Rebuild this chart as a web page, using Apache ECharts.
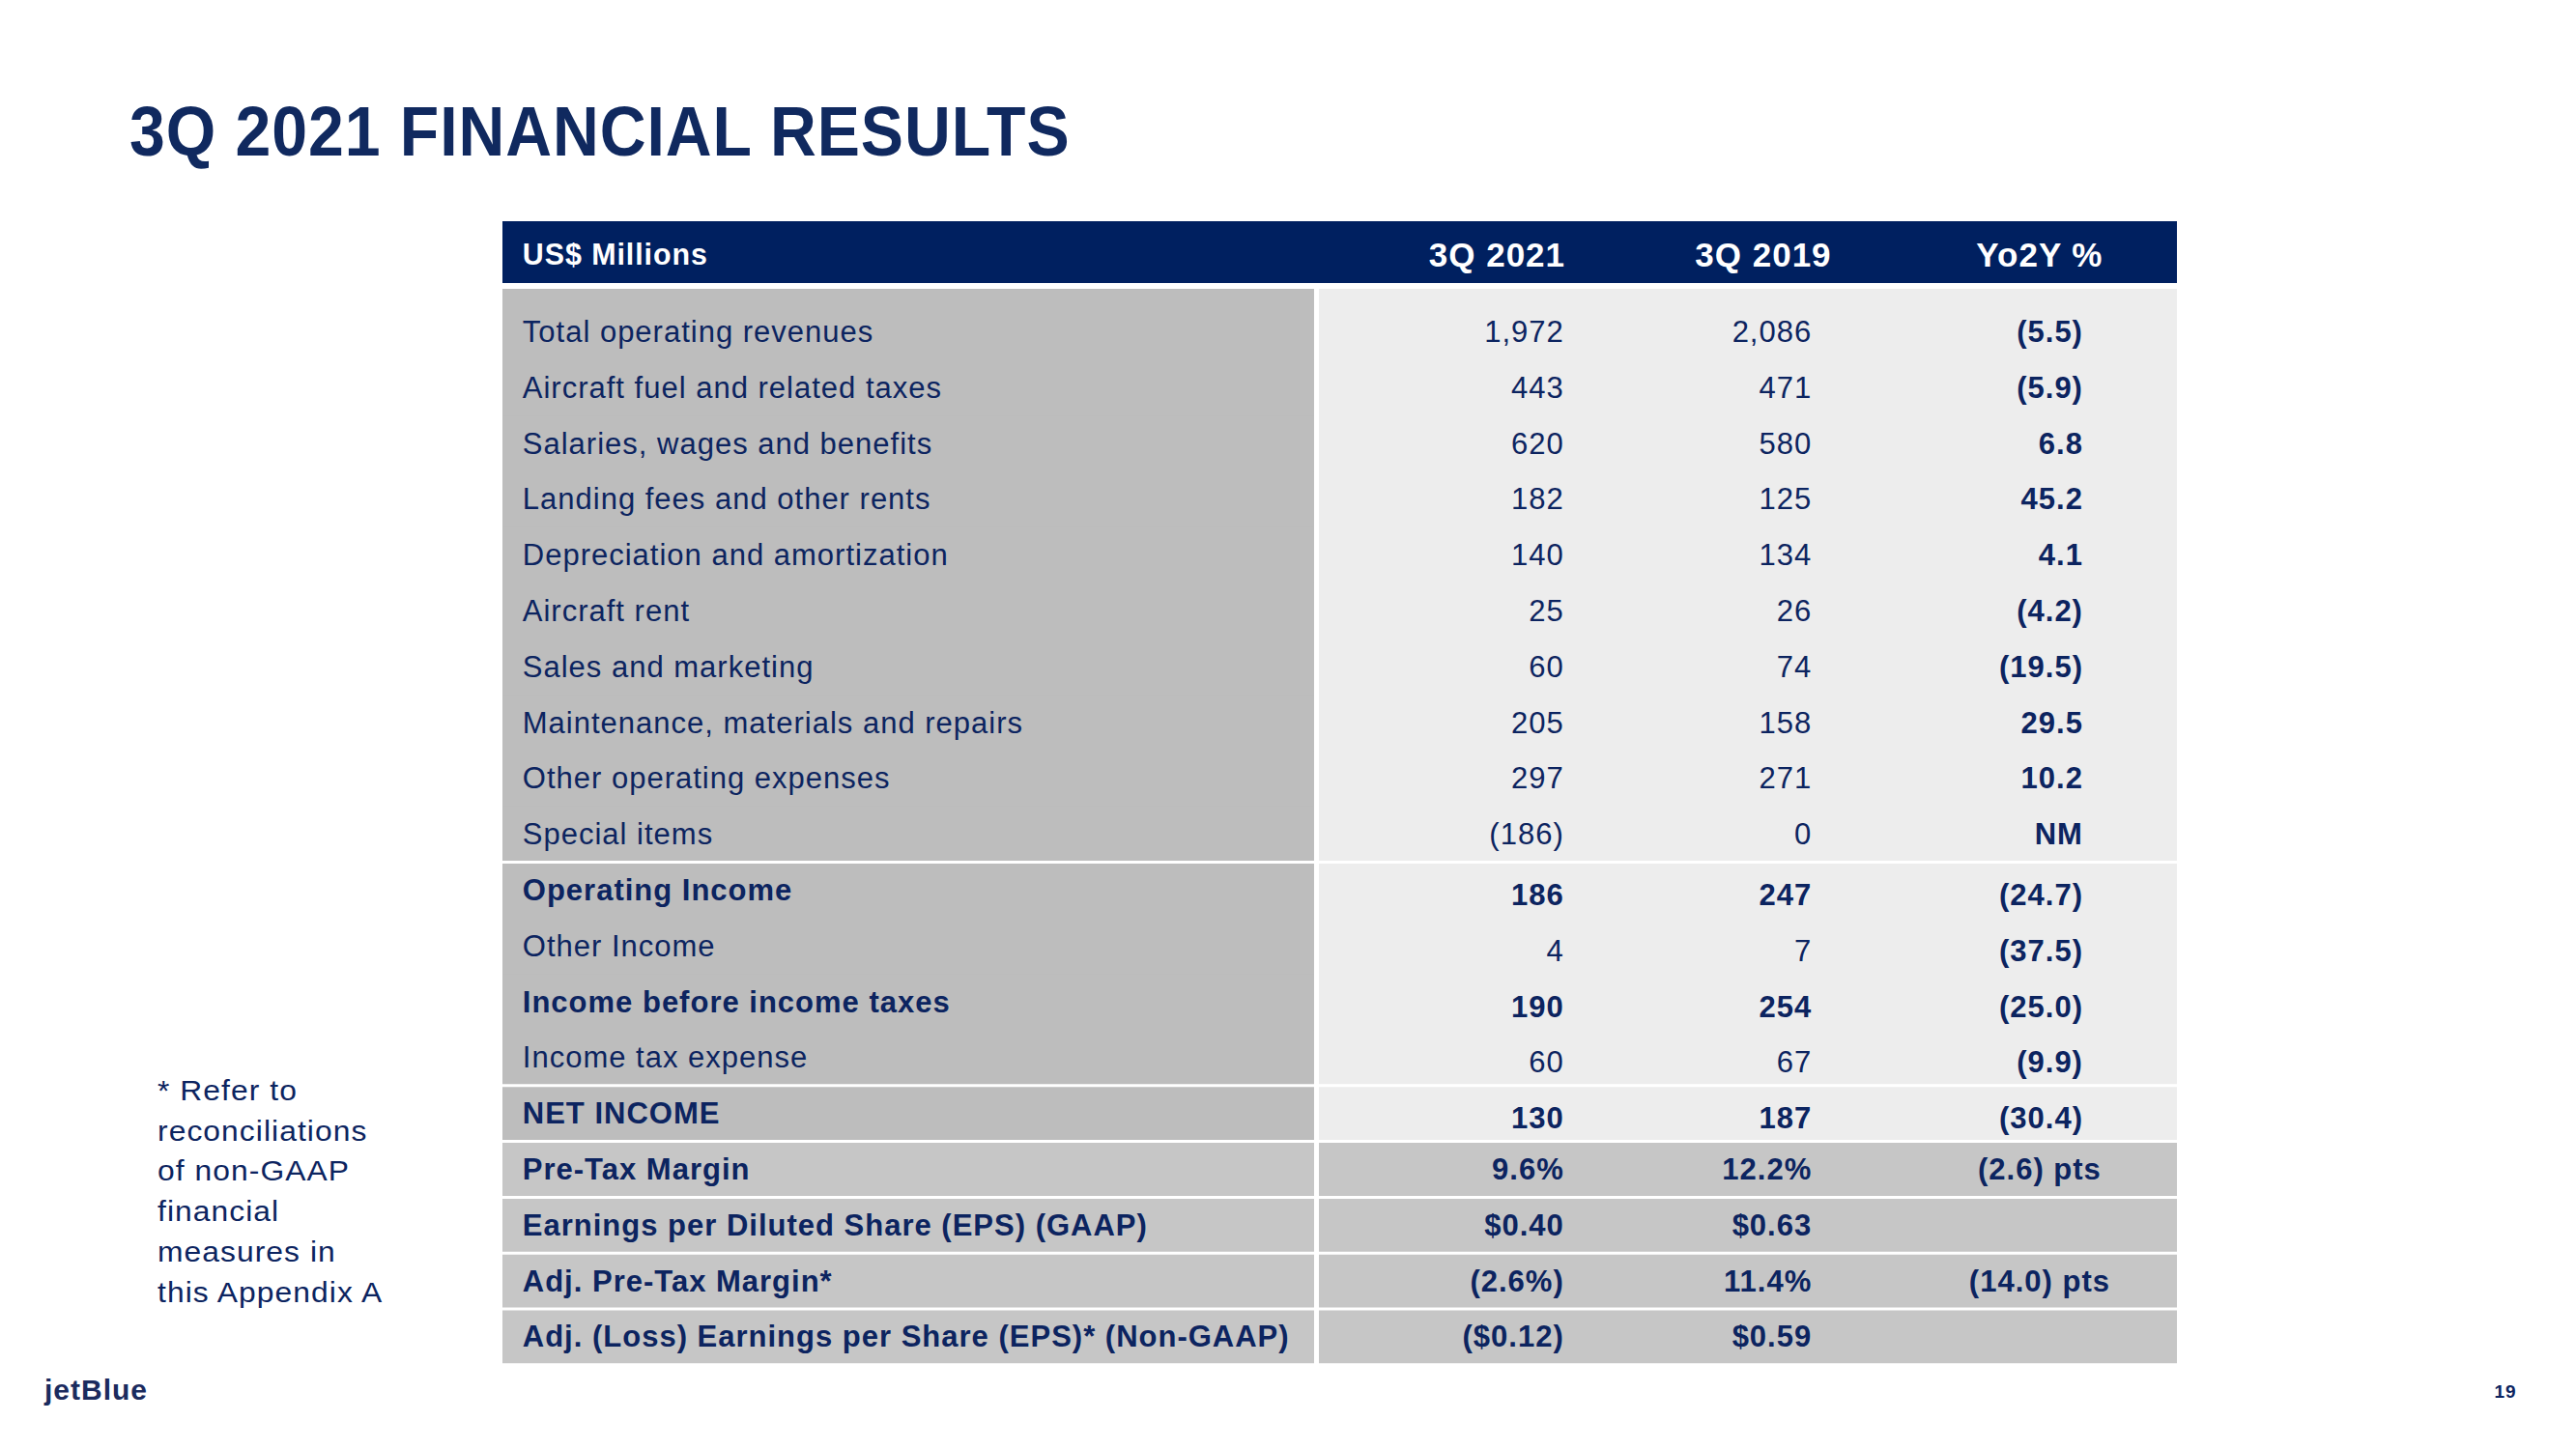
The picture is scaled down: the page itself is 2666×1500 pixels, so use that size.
<!DOCTYPE html>
<html>
<head>
<meta charset="utf-8">
<title>3Q 2021 Financial Results</title>
<script src="https://cdn.jsdelivr.net/npm/echarts@6/dist/echarts.min.js"></script>
<style>
  html, body { margin: 0; padding: 0; background: #ffffff; }
  /* the slide text is tracked out a little */
  #chart { width: 2666px; height: 1500px; letter-spacing: 1px; }
</style>
</head>
<body>
<div id="chart"></div>
<script>
// table content
const colHeaders = ['US$ Millions', '3Q 2021', '3Q 2019', 'Yo2Y %'];
const rowLabels = [
  'Total operating revenues',
  'Aircraft fuel and related taxes',
  'Salaries, wages and benefits',
  'Landing fees and other rents',
  'Depreciation and amortization',
  'Aircraft rent',
  'Sales and marketing',
  'Maintenance, materials and repairs',
  'Other operating expenses',
  'Special items',
  'Operating Income',
  'Other Income',
  'Income before income taxes',
  'Income tax expense',
  'NET INCOME',
  'Pre-Tax Margin',
  'Earnings per Diluted Share (EPS) (GAAP)',
  'Adj. Pre-Tax Margin*',
  'Adj. (Loss) Earnings per Share (EPS)* (Non-GAAP)'
];
// amt = US$ millions, pct = percent, eps = dollars per share
const rowKind = ['amt', 'amt', 'amt', 'amt', 'amt', 'amt', 'amt', 'amt', 'amt', 'amt',
  'amt', 'amt', 'amt', 'amt', 'amt', 'pct', 'eps', 'pct', 'eps'];
const q2021 = [1972, 443, 620, 182, 140, 25, 60, 205, 297, -186, 186, 4, 190, 60, 130, 9.6, 0.40, -2.6, -0.12];
const q2019 = [2086, 471, 580, 125, 134, 26, 74, 158, 271, 0, 247, 7, 254, 67, 187, 12.2, 0.63, 11.4, 0.59];
const yo2y = [-5.5, -5.9, 6.8, 45.2, 4.1, -4.2, -19.5, 29.5, 10.2, 'NM', -24.7, -37.5, -25.0, -9.9, -30.4, -2.6, '', -14.0, ''];
const groupSizes = [10, 4, 1, 1, 1, 1, 1];
const boldRows = [10, 12, 14, 15, 16, 17, 18];
const footnote = ['* Refer to', 'reconciliations', 'of non-GAAP', 'financial', 'measures in', 'this Appendix A'];

const FONT = "'Liberation Sans', Arial, Helvetica, sans-serif";
const NAVY = '#002060';
const INK = '#0C2460';

// column layout, in % of the table width
const COL = { labelX: 1.2, split: 48.47, rightStart: 48.76, c1: 63.4, c2: 78.2, c3: 94.4, h1: 59.4, h2: 75.3, h3: 91.8 };

const rowGroup = [];
groupSizes.forEach((n, g) => { for (let k = 0; k < n; k++) rowGroup.push(g); });

function fmt(v, kind) {
  if (typeof v === 'string') return v;
  const a = Math.abs(v);
  let s;
  if (kind === 'amt') s = a.toLocaleString('en-US');
  else if (kind === 'pct') s = a.toFixed(1) + '%';
  else s = '$' + a.toFixed(2);
  return v < 0 ? '(' + s + ')' : s;
}
function fmtYoy(v, kind) {
  if (typeof v === 'string') return v;
  const s = Math.abs(v).toFixed(1);
  const t = v < 0 ? '(' + s + ')' : s;
  return kind === 'pct' ? t + ' pts' : t;
}

function txt(x, y, text, size, weight, align, fill, scaleX) {
  return {
    type: 'text', x: x, y: y, scaleX: scaleX || 1,
    style: {
      text: text, fill: fill || INK, fontSize: size, fontWeight: weight, fontFamily: FONT,
      align: align, textAlign: align, verticalAlign: 'middle', textVerticalAlign: 'middle'
    }
  };
}

function renderRow(params, api) {
  const i = api.value(1);
  const cy = api.coord([0, i])[1];
  const band = api.size([0, 1])[1];
  const X = p => api.coord([p, i])[0];
  const g = rowGroup[i];
  const first = i === 0 || rowGroup[i - 1] !== g;
  const last = i === rowLabels.length - 1 || rowGroup[i + 1] !== g;
  let top = cy - band / 2 + (first ? 1.5 : 0);
  if (i === 0) top = cy - band / 2 - 15.5;
  // rows inside a group overlap a little so no seam shows
  const bottom = cy + band / 2 + (last ? -1.5 : 1);
  const lower = g >= 3;
  const weight = boldRows.includes(i) ? 'bold' : 'normal';
  const vy = cy + ((g === 1 || g === 2) ? 5 : 0);
  const kind = rowKind[i];

  const children = [
    { type: 'rect', shape: { x: X(0), y: top, width: X(COL.split) - X(0), height: bottom - top },
      style: { fill: lower ? '#C6C6C6' : '#BDBDBD' } },
    { type: 'rect', shape: { x: X(COL.rightStart), y: top, width: X(100) - X(COL.rightStart), height: bottom - top },
      style: { fill: lower ? '#C6C6C6' : '#EDEDED' } },
    txt(X(COL.labelX), cy, rowLabels[i], 31, weight, 'left'),
    txt(X(COL.c1), vy, fmt(q2021[i], kind), 31, weight, 'right'),
    txt(X(COL.c2), vy, fmt(q2019[i], kind), 31, weight, 'right')
  ];
  const yoyText = fmtYoy(yo2y[i], kind);
  if (kind === 'pct') children.push(txt(X(COL.h3), vy, yoyText, 31, 'bold', 'center'));
  else children.push(txt(X(COL.c3), vy, yoyText, 31, 'bold', 'right'));

  if (i === 0) {
    const hTop = top - 70, hBottom = top - 6, hy = top - 36;
    children.unshift({ type: 'rect', shape: { x: X(0), y: hTop, width: X(100) - X(0), height: hBottom - hTop },
      style: { fill: NAVY } });
    children.push(txt(X(COL.labelX), hy, colHeaders[0], 32, 'bold', 'left', '#FFFFFF', 0.95));
    children.push(txt(X(COL.h1), hy, colHeaders[1], 35, 'bold', 'center', '#FFFFFF'));
    children.push(txt(X(COL.h2), hy, colHeaders[2], 35, 'bold', 'center', '#FFFFFF'));
    children.push(txt(X(COL.h3), hy, colHeaders[3], 35, 'bold', 'center', '#FFFFFF'));
  }
  return { type: 'group', children: children };
}

const chart = echarts.init(document.getElementById('chart'), null, { renderer: 'svg' });
chart.setOption({
  backgroundColor: '#FFFFFF',
  animation: false,
  grid: { left: 520, width: 1733, top: 314.6, height: 1098.2 },
  xAxis: { type: 'value', min: 0, max: 100, show: false },
  yAxis: { type: 'category', data: rowLabels, inverse: true, show: false },
  graphic: [
    { type: 'text', x: 134, y: 136, scaleX: 0.92,
      style: { text: '3Q 2021 FINANCIAL RESULTS', fill: '#10295F', fontSize: 72, fontWeight: 'bold', fontFamily: FONT,
        align: 'left', textAlign: 'left', verticalAlign: 'middle', textVerticalAlign: 'middle' } },
    { type: 'text', x: 163, y: 1108, scaleX: 1.06,
      style: { text: footnote.join('\n'), fill: INK, fontSize: 30, lineHeight: 41.7, fontFamily: FONT,
        align: 'left', textAlign: 'left', verticalAlign: 'top', textVerticalAlign: 'top' } },
    { type: 'text', x: 46, y: 1438,
      style: { text: 'jetBlue', fill: '#1B2B5E', fontSize: 30, fontWeight: 'bold', fontFamily: FONT,
        align: 'left', textAlign: 'left', verticalAlign: 'middle', textVerticalAlign: 'middle' } },
    { type: 'text', x: 2593, y: 1440,
      style: { text: '19', fill: INK, fontSize: 19, fontWeight: 'bold', fontFamily: FONT,
        align: 'center', textAlign: 'center', verticalAlign: 'middle', textVerticalAlign: 'middle' } }
  ],
  series: [{
    type: 'custom',
    silent: true,
    clip: false,
    encode: { x: 0, y: 1 },
    data: rowLabels.map((_, i) => [0, i]),
    renderItem: renderRow
  }]
});
</script>
</body>
</html>
